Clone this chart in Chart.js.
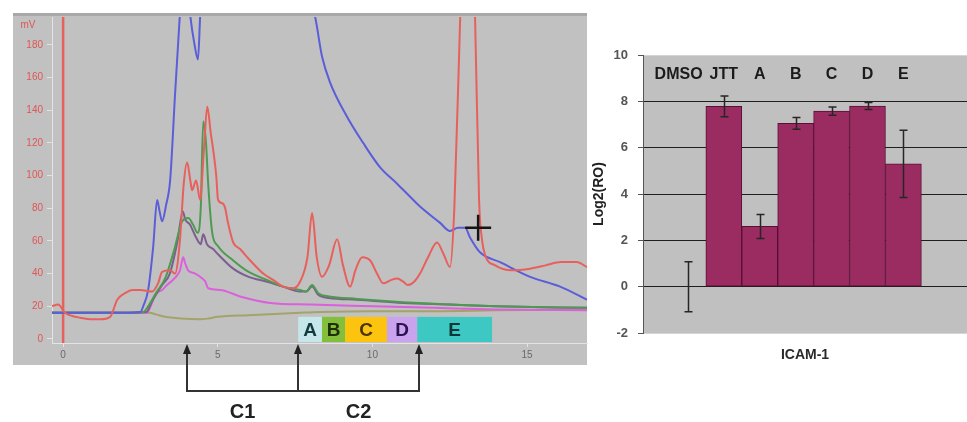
<!DOCTYPE html>
<html>
<head>
<meta charset="utf-8">
<script src="https://cdn.jsdelivr.net/npm/chart.js@4.4.1/dist/chart.umd.min.js"></script>
<style>
  html, body { margin: 0; padding: 0; background: #fff; }
  #wrap { position: relative; width: 967px; height: 422px; overflow: hidden; }
  #hplc { position: absolute; left: 0; top: 0; width: 590px; height: 422px; }
  #icam { position: absolute; left: 590px; top: 0; width: 377px; height: 422px; }
</style>
</head>
<body>
<div id="wrap">
  <div id="hplc"><canvas id="hplcChart"></canvas></div>
  <div id="icam"><canvas id="icamChart"></canvas></div>
</div>
<script>
// ---- chromatogram: [time (min), signal (mV)] ----
const redTrace = [[-0.36,20],[-0.16,21],[0.06,16],[0.3,14],[0.55,13],[0.9,12],[1.2,12],[1.52,13.5],[1.75,24],[2.0,28],[2.25,30],[2.49,30],[2.88,29],[3.07,34],[3.2,41],[3.46,42],[3.62,40],[3.78,61],[3.9,95],[4.01,108],[4.12,96],[4.17,91],[4.3,97],[4.43,85],[4.55,115],[4.66,142],[4.78,125],[4.85,116],[4.95,100],[5.01,85],[5.15,83],[5.24,80],[5.32,72],[5.5,59],[5.72,55],[6.05,48],[6.47,40],[6.8,36],[7.11,32],[7.44,31],[7.66,35],[7.9,50],[8.05,77],[8.2,50],[8.37,38],[8.6,45],[8.86,61],[9.05,45],[9.28,32],[9.45,42],[9.67,50],[9.93,48],[10.15,40],[10.35,34],[10.6,36],[10.8,37],[11.0,35],[11.15,33],[11.35,35],[11.54,40],[11.8,50],[12.09,59],[12.3,52],[12.51,44],[12.65,80],[12.84,197],[13.08,330],[13.32,197],[13.45,85],[13.55,60],[13.65,51],[13.97,45],[14.5,42],[15.1,43],[15.6,45],[16.1,47],[16.6,47],[16.94,44]];
const blueTrace = [[-0.36,16],[1.0,16],[2.0,16],[2.5,16.5],[2.59,20],[2.75,30],[2.91,56],[3.04,85],[3.12,78],[3.2,72],[3.33,82],[3.46,97],[3.62,150],[3.78,200],[3.92,245],[4.1,200],[4.25,180],[4.36,171],[4.43,197],[4.6,250],[5.5,290],[6.5,280],[7.5,235],[8.0,207],[8.15,197],[8.37,173],[8.63,157],[9.18,136],[9.7,120],[10.25,105],[10.8,95],[11.22,87],[11.54,81],[12.19,71],[12.51,66],[12.77,68],[13.0,68],[13.16,62],[13.48,53],[14.13,47],[15.1,38],[16.07,32],[16.94,24]];
const greenTrace = [[-0.36,16],[2.0,16],[2.6,16.5],[2.75,20],[3.0,28],[3.3,37],[3.6,55],[3.85,72],[4.05,74],[4.2,70],[4.35,65],[4.45,80],[4.53,133],[4.62,120],[4.69,95],[4.82,65],[5.0,57],[5.5,48],[6.0,41],[6.6,36],[7.11,32],[7.66,30],[7.86,29],[8.05,33],[8.25,28],[8.6,26],[9.5,24.5],[11,22.5],[12.5,21],[14,20],[16.94,19]];
const purpleTrace = [[-0.36,16],[2.0,16],[2.7,16.5],[2.85,22],[3.0,27],[3.2,33],[3.45,40],[3.7,60],[3.87,78],[3.95,73],[4.1,70],[4.3,62],[4.45,58],[4.53,64],[4.65,58],[4.85,55],[5.0,52],[5.5,43],[6.0,38],[6.6,35],[7.11,32],[7.66,29],[7.86,29],[8.05,32],[8.25,27],[8.6,25],[9.5,24],[11,22],[12.5,21],[14,20],[16.94,19]];
const magentaTrace = [[-0.36,16],[2.0,16],[2.7,16],[2.85,21],[2.97,27],[3.2,30],[3.36,33],[3.6,37],[3.78,42],[3.88,50],[3.95,46],[4.04,42],[4.27,40],[4.5,37],[4.6,35],[4.69,31],[5.08,30],[5.72,26],[6.7,22],[8,21],[10,20],[12,19],[14,18],[16.94,17.5]];
const oliveTrace = [[-0.36,16],[2.0,16],[2.8,16],[3.0,15],[3.3,13.5],[3.8,12.5],[4.43,12],[4.7,12.5],[5.0,13.5],[6.0,14.5],[7.66,16],[8.3,16.5],[10,17],[12,17],[14,17.5],[16.94,18]];
const injectAt = 0;
const cursorPoint = [13.42, 68];
const mvTicks = [0, 20, 40, 60, 80, 100, 120, 140, 160, 180];
const timeTicks = [0, 5, 10, 15];

// collected fractions (min)
const fractions = ['A', 'B', 'C', 'D', 'E'];
const fracStart = [7.6, 8.37, 9.12, 10.47, 11.45];
const fracEnd = [8.37, 9.12, 10.47, 11.45, 13.87];
// pooled ranges (min)
const pools = ['C1', 'C2'];
const poolFrom = [4.0, 7.6];
const poolTo = [7.6, 11.5];

// ---- ICAM-1 bar chart ----
const groups = ['DMSO', 'JTT', 'A', 'B', 'C', 'D', 'E'];
const logRO = [0, 7.78, 2.6, 7.05, 7.58, 7.8, 5.3];
const logROErr = [1.08, 0.45, 0.52, 0.25, 0.18, 0.15, 1.45];

const FONT = "'Liberation Sans', Arial, sans-serif";
Chart.defaults.font.family = FONT;

const pts = arr => arr.map(p => ({ x: p[0], y: p[1] }));
const trace = (label, arr, color) => ({
  label: label,
  data: pts(arr),
  borderColor: color,
  borderWidth: 2,
  pointRadius: 0,
  cubicInterpolationMode: 'monotone',
  fill: false
});

const fracFill = ['#c6e7ea', '#84bf3b', '#fcc30f', '#c9a3ee', '#3dc8c4'];
const fracInk = ['#133b3f', '#1f2d05', '#4b3400', '#2a134e', '#0b3737'];

const hplcDecor = {
  id: 'hplcDecor',
  beforeDraw(chart) {
    const c = chart.ctx;
    c.save();
    c.fillStyle = '#c1c1c1';
    c.fillRect(13, 13, 574, 352);
    c.fillStyle = '#a8a8a8';
    c.fillRect(13, 13, 574, 3);
    c.fillStyle = '#e05555';
    c.font = '10px ' + FONT;
    c.textAlign = 'center';
    c.fillText('mV', 28, 28);
    c.restore();
  },
  beforeDatasetsDraw(chart) {
    const c = chart.ctx, xs = chart.scales.x, ys = chart.scales.y;
    const top = ys.getPixelForValue(13.5), bottom = chart.chartArea.bottom - 1;
    c.save();
    fractions.forEach((f, i) => {
      const x0 = xs.getPixelForValue(fracStart[i]), x1 = xs.getPixelForValue(fracEnd[i]);
      c.fillStyle = fracFill[i];
      c.fillRect(x0, top, x1 - x0, bottom - top);
      c.fillStyle = fracInk[i];
      c.font = 'bold 19px ' + FONT;
      c.textAlign = 'center';
      c.textBaseline = 'middle';
      c.fillText(f, (x0 + x1) / 2, (top + bottom) / 2 + 1);
    });
    c.restore();
  },
  afterDraw(chart) {
    const c = chart.ctx, xs = chart.scales.x;
    const tip = chart.chartArea.bottom + 1, base = 391;
    const marks = poolFrom.concat([poolTo[poolTo.length - 1]]);
    c.save();
    c.strokeStyle = '#333';
    c.fillStyle = '#222';
    c.lineWidth = 2;
    marks.forEach(t => {
      const px = Math.round(xs.getPixelForValue(t));
      c.beginPath();
      c.moveTo(px, base);
      c.lineTo(px, tip + 8);
      c.stroke();
      c.beginPath();
      c.moveTo(px, tip);
      c.lineTo(px - 4, tip + 10);
      c.lineTo(px + 4, tip + 10);
      c.closePath();
      c.fill();
    });
    c.beginPath();
    c.moveTo(Math.round(xs.getPixelForValue(marks[0])) - 1, base);
    c.lineTo(Math.round(xs.getPixelForValue(marks[marks.length - 1])) + 1, base);
    c.stroke();
    c.font = 'bold 20px ' + FONT;
    c.textAlign = 'center';
    c.textBaseline = 'middle';
    pools.forEach((p, i) => {
      const mid = (xs.getPixelForValue(poolFrom[i]) + xs.getPixelForValue(poolTo[i])) / 2;
      c.fillText(p, mid, 412);
    });
    c.restore();
  }
};

new Chart(document.getElementById('hplcChart'), {
  type: 'line',
  data: {
    datasets: [
      {
        label: 'cursor',
        data: [{ x: cursorPoint[0], y: cursorPoint[1] }],
        showLine: false,
        pointStyle: 'cross',
        pointRadius: 13,
        pointBorderWidth: 2.5,
        pointBorderColor: '#151515'
      },
      trace('red', redTrace, '#e8605c'),
      trace('blue', blueTrace, '#5a5ed8'),
      trace('green', greenTrace, '#4f9a52'),
      trace('purple', purpleTrace, '#7c5f8e'),
      trace('magenta', magentaTrace, '#dc5fdc'),
      trace('olive', oliveTrace, '#a3a36a'),
      {
        label: 'injection',
        data: [{ x: injectAt, y: -2.5 }, { x: injectAt, y: 197 }],
        borderColor: '#e8605c',
        borderWidth: 2.5,
        pointRadius: 0
      }
    ]
  },
  options: {
    responsive: true,
    maintainAspectRatio: false,
    animation: false,
    events: [],
    layout: { autoPadding: false, padding: { left: 13, right: 3, top: 17, bottom: 57 } },
    plugins: { legend: { display: false }, tooltip: { enabled: false } },
    scales: {
      x: {
        type: 'linear',
        min: -0.36,
        max: 16.94,
        afterBuildTicks: s => { s.ticks = timeTicks.map(v => ({ value: v })); },
        afterFit: s => { s.height = 22; },
        grid: { drawOnChartArea: false, color: '#e2e2e2', tickLength: 4 },
        border: { color: '#e4e4e4', dash: [3, 2] },
        ticks: { color: '#6a6a6a', font: { size: 10 }, padding: 2, maxRotation: 0 }
      },
      y: {
        min: -2.5,
        max: 197,
        afterBuildTicks: s => { s.ticks = mvTicks.map(v => ({ value: v })); },
        afterFit: s => { s.width = 39; },
        grid: { drawOnChartArea: false, color: '#e2e2e2', tickLength: 5 },
        border: { color: '#e4e4e4', dash: [3, 2] },
        ticks: { color: '#e05555', font: { size: 10 }, padding: 4 }
      }
    }
  },
  plugins: [hplcDecor]
});

// ---- ICAM-1 ----
const icamDecor = {
  id: 'icamDecor',
  beforeDraw(chart) {
    const a = chart.chartArea, c = chart.ctx;
    c.save();
    c.fillStyle = '#c0c0c0';
    c.fillRect(a.left, a.top, a.right - a.left, a.bottom - a.top);
    c.restore();
  },
  afterDatasetsDraw(chart) {
    const c = chart.ctx, xs = chart.scales.x, ys = chart.scales.y;
    c.save();
    c.strokeStyle = '#262626';
    c.lineWidth = 1.5;
    groups.forEach((g, i) => {
      const px = Math.round(xs.getPixelForValue(i)) + 0.5;
      const hi = ys.getPixelForValue(logRO[i] + logROErr[i]);
      const lo = ys.getPixelForValue(logRO[i] - logROErr[i]);
      c.beginPath();
      c.moveTo(px, hi); c.lineTo(px, lo);
      c.moveTo(px - 4, hi); c.lineTo(px + 4, hi);
      c.moveTo(px - 4, lo); c.lineTo(px + 4, lo);
      c.stroke();
    });
    // group names along the top, nudged left if they would touch the next one
    c.font = 'bold 16px ' + FONT;
    c.fillStyle = '#1b1b1b';
    c.textAlign = 'center';
    c.textBaseline = 'middle';
    const y = ys.getPixelForValue(9.15);
    const xsPos = groups.map((g, i) => xs.getPixelForValue(i));
    for (let i = groups.length - 2; i >= 0; i--) {
      const w = c.measureText(groups[i]).width, wn = c.measureText(groups[i + 1]).width;
      const limit = xsPos[i + 1] - wn / 2 - 7 - w / 2;
      if (xsPos[i] > limit) xsPos[i] = limit;
    }
    groups.forEach((g, i) => c.fillText(g, xsPos[i], y));
    c.restore();
  }
};

new Chart(document.getElementById('icamChart'), {
  type: 'bar',
  data: {
    datasets: [{
      label: 'ICAM-1',
      data: groups.map((g, i) => ({ x: i, y: logRO[i] })),
      backgroundColor: '#9a2c62',
      borderColor: '#5a0e33',
      borderWidth: 1,
      borderSkipped: false,
      barPercentage: 1,
      categoryPercentage: 1
    }]
  },
  options: {
    responsive: true,
    maintainAspectRatio: false,
    animation: false,
    events: [],
    layout: { autoPadding: false, padding: { left: 0, right: 0, top: 55, bottom: 55 } },
    plugins: { legend: { display: false }, tooltip: { enabled: false } },
    scales: {
      x: {
        type: 'linear',
        offset: false,
        min: -1.25,
        max: 7.77,
        afterBuildTicks: s => { s.ticks = groups.map((g, i) => ({ value: i })); },
        afterFit: s => { s.height = 34; },
        grid: { display: false },
        border: { color: '#d6d6d6' },
        ticks: { display: false },
        title: { display: true, text: 'ICAM-1', color: '#2a2a2a', font: { size: 14, weight: 'bold' }, padding: { top: 0, bottom: 3 } }
      },
      y: {
        min: -2,
        max: 10,
        afterFit: s => { s.width = 53; },
        ticks: { stepSize: 2, color: '#555', font: { size: 13, weight: 'bold' }, padding: 10 },
        grid: {
          color: ctx => (ctx.tick && (ctx.tick.value === 10 || ctx.tick.value === -2)) ? '#d4d4d4' : '#1e1e1e',
          tickColor: '#555',
          tickLength: 5
        },
        border: { color: '#555' },
        title: { display: true, text: 'Log2(RO)', color: '#222', font: { size: 14, weight: 'bold' }, padding: { top: 1, bottom: 0 } }
      }
    }
  },
  plugins: [icamDecor]
});
</script>
</body>
</html>
